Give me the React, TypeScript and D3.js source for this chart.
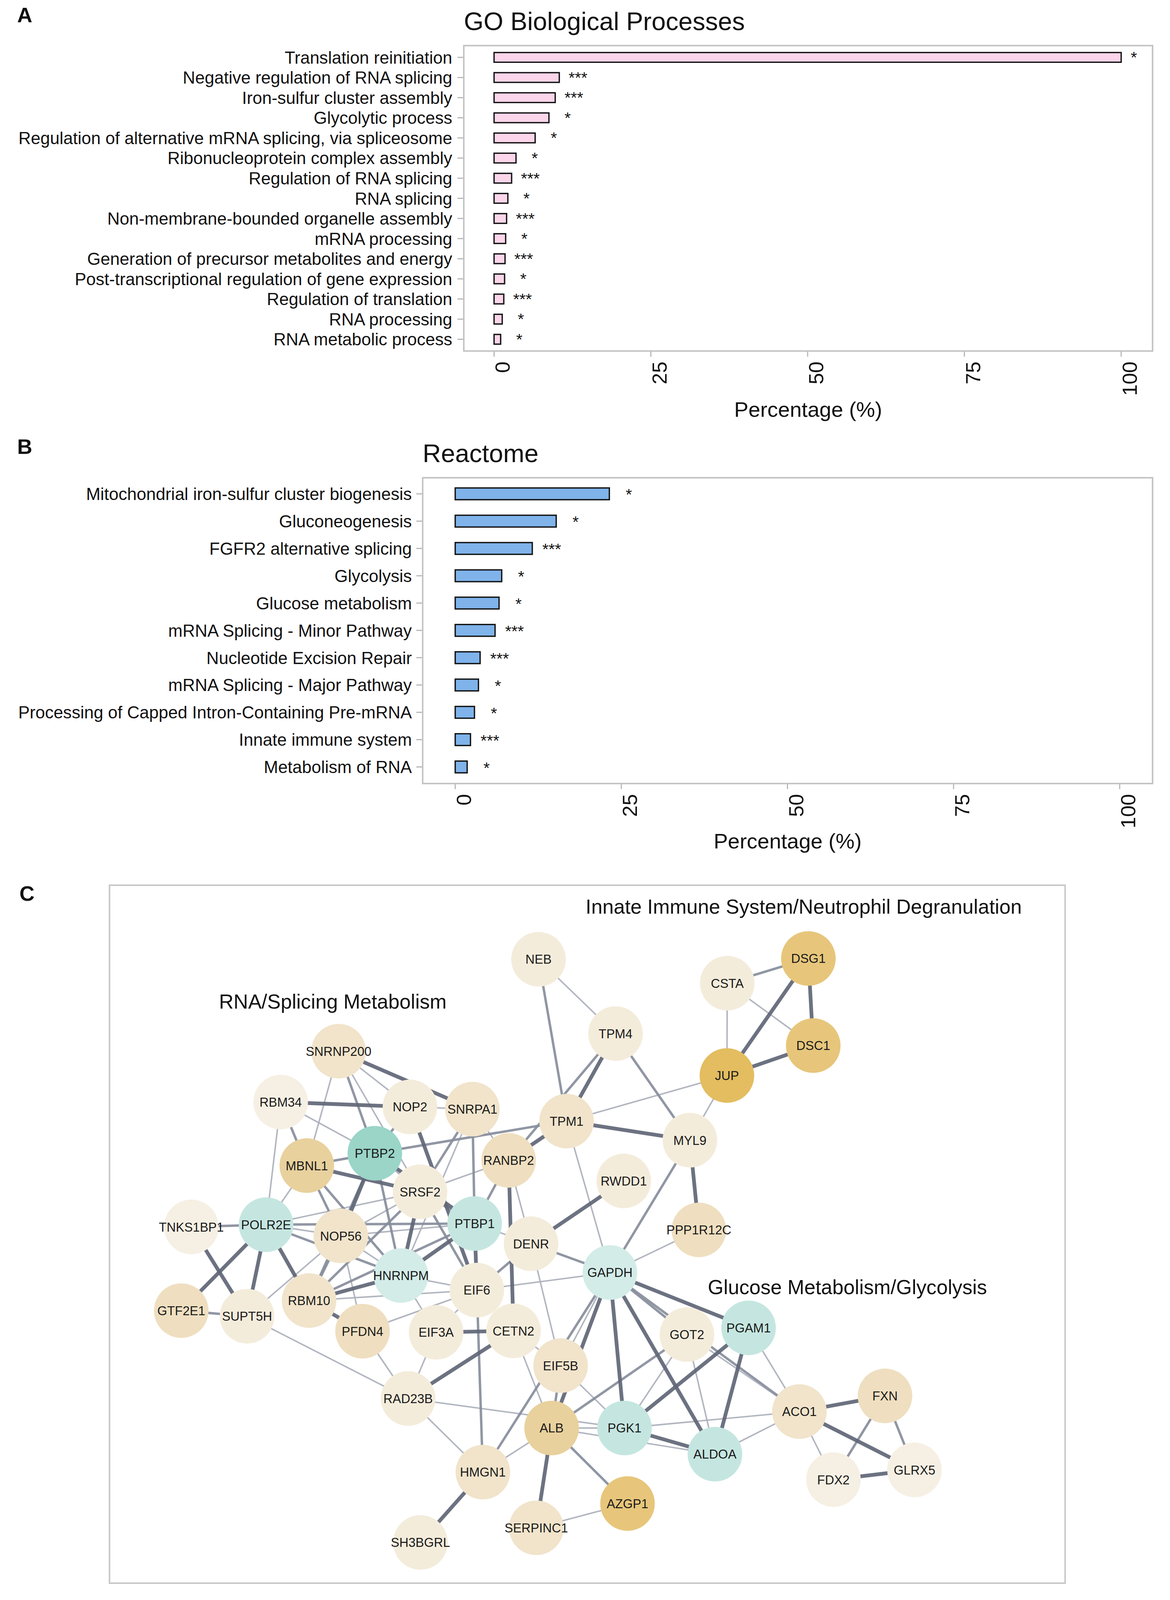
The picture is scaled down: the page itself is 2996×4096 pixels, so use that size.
import React from "react"
import { scaleLinear, scalePoint } from "d3"

const FONT = "'Liberation Sans', Arial, Helvetica, sans-serif"
const SCALE = 0.957

// ---- panel A data
const goTerms = [
  "Translation reinitiation",
  "Negative regulation of RNA splicing",
  "Iron-sulfur cluster assembly",
  "Glycolytic process",
  "Regulation of alternative mRNA splicing, via spliceosome",
  "Ribonucleoprotein complex assembly",
  "Regulation of RNA splicing",
  "RNA splicing",
  "Non-membrane-bounded organelle assembly",
  "mRNA processing",
  "Generation of precursor metabolites and energy",
  "Post-transcriptional regulation of gene expression",
  "Regulation of translation",
  "RNA processing",
  "RNA metabolic process",
]
const goPercent = [100, 10.4, 9.75, 8.75, 6.55, 3.5, 2.8, 2.2, 2.0, 1.85, 1.75, 1.68, 1.55, 1.3, 1.05]
const goSignif = ["*", "***", "***", "*", "*", "*", "***", "*", "***", "*", "***", "*", "***", "*", "*"]

// ---- panel B data
const reactomeTerms = [
  "Mitochondrial iron-sulfur cluster biogenesis",
  "Gluconeogenesis",
  "FGFR2 alternative splicing",
  "Glycolysis",
  "Glucose metabolism",
  "mRNA Splicing - Minor Pathway",
  "Nucleotide Excision Repair",
  "mRNA Splicing - Major Pathway",
  "Processing of Capped Intron-Containing Pre-mRNA",
  "Innate immune system",
  "Metabolism of RNA",
]
const reactomePercent = [23.2, 15.2, 11.6, 7.0, 6.6, 6.0, 3.75, 3.5, 2.9, 2.3, 1.8]
const reactomeSignif = ["*", "*", "***", "*", "*", "***", "***", "*", "*", "***", "*"]

const percentTicks = [0, 25, 50, 75, 100]

// ---- panel C data (layout units inside the network frame)
const geneNodes: [string, number, number, string][] = [
  ["NEB", 1148, 198, "cream"],
  ["CSTA", 1653, 262, "cream"],
  ["DSG1", 1870, 196, "gold"],
  ["DSC1", 1883, 429, "gold"],
  ["TPM4", 1354, 397, "cream"],
  ["JUP", 1652, 509, "amber"],
  ["SNRNP200", 613, 444, "beige"],
  ["RBM34", 458, 580, "pale"],
  ["NOP2", 804, 593, "cream"],
  ["SNRPA1", 971, 599, "beige"],
  ["TPM1", 1223, 631, "beige"],
  ["MYL9", 1553, 682, "cream"],
  ["MBNL1", 528, 750, "tan"],
  ["PTBP2", 710, 717, "teal"],
  ["RANBP2", 1068, 736, "sand"],
  ["SRSF2", 831, 820, "cream"],
  ["RWDD1", 1376, 791, "cream"],
  ["TNKS1BP1", 219, 914, "pale"],
  ["POLR2E", 419, 908, "aqua"],
  ["NOP56", 619, 938, "beige"],
  ["PTBP1", 977, 905, "aqua"],
  ["DENR", 1128, 959, "cream"],
  ["PPP1R12C", 1577, 922, "sand"],
  ["HNRNPM", 780, 1044, "mist"],
  ["EIF6", 983, 1083, "cream"],
  ["GAPDH", 1339, 1036, "mist"],
  ["GTF2E1", 192, 1138, "sand"],
  ["SUPT5H", 368, 1153, "cream"],
  ["RBM10", 534, 1111, "beige"],
  ["PFDN4", 677, 1193, "sand"],
  ["EIF3A", 874, 1196, "cream"],
  ["CETN2", 1081, 1192, "cream"],
  ["GOT2", 1545, 1202, "cream"],
  ["PGAM1", 1710, 1184, "aqua"],
  ["EIF5B", 1207, 1285, "beige"],
  ["RAD23B", 799, 1373, "cream"],
  ["ALB", 1183, 1452, "tan"],
  ["PGK1", 1378, 1452, "aqua"],
  ["ACO1", 1846, 1408, "beige"],
  ["FXN", 2075, 1366, "sand"],
  ["ALDOA", 1620, 1522, "aqua"],
  ["HMGN1", 999, 1570, "beige"],
  ["FDX2", 1937, 1590, "pale"],
  ["GLRX5", 2154, 1564, "pale"],
  ["AZGP1", 1386, 1654, "gold"],
  ["SERPINC1", 1142, 1719, "beige"],
  ["SH3BGRL", 832, 1758, "cream"],
]

const geneLinks: [string, string, number][] = [
  // thin
  ["NEB", "TPM4", 1], ["TPM1", "JUP", 1], ["TPM1", "GAPDH", 1], ["MYL9", "JUP", 1],
  ["CSTA", "JUP", 1], ["CSTA", "DSC1", 1], ["PPP1R12C", "GAPDH", 1], ["EIF6", "GAPDH", 1],
  ["SRSF2", "RANBP2", 1], ["SNRPA1", "RANBP2", 1], ["RANBP2", "DENR", 1], ["PGAM1", "ACO1", 1],
  ["GOT2", "PGK1", 1], ["GOT2", "ALDOA", 1], ["GOT2", "ACO1", 1], ["PGK1", "ALB", 1],
  ["PGK1", "ACO1", 1], ["PGK1", "EIF5B", 1], ["ALDOA", "ACO1", 1], ["ACO1", "FDX2", 1],
  ["ALB", "HMGN1", 1], ["SERPINC1", "AZGP1", 1], ["DENR", "EIF5B", 1], ["ALB", "ALDOA", 1],
  ["CETN2", "ALB", 1], ["RAD23B", "PGK1", 1], ["RAD23B", "SUPT5H", 1], ["RAD23B", "PFDN4", 1],
  ["RAD23B", "EIF3A", 1], ["RAD23B", "HMGN1", 1], ["PFDN4", "EIF6", 1], ["HNRNPM", "EIF3A", 1],
  ["EIF6", "EIF3A", 1], ["SUPT5H", "NOP56", 1], ["POLR2E", "SRSF2", 1], ["POLR2E", "NOP56", 1],
  ["POLR2E", "MBNL1", 1], ["RBM34", "PTBP2", 1], ["RBM34", "POLR2E", 1], ["SNRNP200", "NOP2", 1],
  ["SNRNP200", "MBNL1", 1], ["SNRNP200", "SRSF2", 1], ["NOP2", "SNRPA1", 1], ["SNRPA1", "HNRNPM", 1],
  ["PTBP2", "SRSF2", 1], ["NOP56", "PTBP1", 1], ["NOP56", "SRSF2", 1], ["NOP56", "HNRNPM", 1],
  ["NOP56", "PFDN4", 1], ["RBM10", "EIF6", 1], ["PTBP1", "DENR", 1], ["HNRNPM", "EIF6", 1],
  ["GAPDH", "EIF5B", 1], ["EIF5B", "CETN2", 1],
  // medium
  ["NEB", "TPM1", 2], ["TPM4", "RANBP2", 2], ["TPM4", "MYL9", 2], ["MYL9", "GAPDH", 2],
  ["CSTA", "DSG1", 2], ["DENR", "GAPDH", 2], ["PTBP2", "TPM1", 2], ["SNRPA1", "PTBP1", 2],
  ["PTBP1", "RANBP2", 2], ["GAPDH", "ACO1", 2], ["GAPDH", "HMGN1", 2], ["GOT2", "ALB", 2],
  ["FXN", "FDX2", 2], ["FXN", "GLRX5", 2], ["ALB", "AZGP1", 2], ["ALB", "EIF5B", 2],
  ["EIF6", "HMGN1", 2], ["GTF2E1", "SUPT5H", 2], ["TNKS1BP1", "POLR2E", 2], ["POLR2E", "PTBP1", 2],
  ["POLR2E", "HNRNPM", 2], ["MBNL1", "PTBP2", 2], ["MBNL1", "NOP56", 2], ["MBNL1", "HNRNPM", 2],
  ["PTBP2", "RBM10", 2], ["PTBP2", "HNRNPM", 2], ["RBM34", "MBNL1", 2], ["SNRNP200", "PTBP2", 2],
  ["SNRPA1", "SRSF2", 2], ["NOP2", "PTBP2", 2], ["NOP56", "RBM10", 2], ["RBM10", "PTBP1", 2],
  ["RBM10", "SRSF2", 2], ["SRSF2", "PTBP1", 2], ["EIF6", "DENR", 2], ["GAPDH", "GOT2", 2],
  ["SRSF2", "EIF6", 2],
  // thick
  ["TPM4", "TPM1", 3], ["TPM1", "MYL9", 3], ["MYL9", "PPP1R12C", 3], ["DSG1", "JUP", 3],
  ["DSG1", "DSC1", 3], ["JUP", "DSC1", 3], ["RWDD1", "DENR", 3], ["RANBP2", "CETN2", 3],
  ["GAPDH", "PGAM1", 3], ["GAPDH", "PGK1", 3], ["GAPDH", "ALDOA", 3], ["GAPDH", "ALB", 3],
  ["PGAM1", "PGK1", 3], ["PGAM1", "ALDOA", 3], ["PGK1", "ALDOA", 3], ["ACO1", "FXN", 3],
  ["ACO1", "GLRX5", 3], ["FDX2", "GLRX5", 3], ["ALB", "SERPINC1", 3], ["RAD23B", "CETN2", 3],
  ["HMGN1", "SH3BGRL", 3], ["EIF3A", "CETN2", 3], ["SNRNP200", "SNRPA1", 3], ["RBM34", "NOP2", 3],
  ["GTF2E1", "POLR2E", 3], ["TNKS1BP1", "SUPT5H", 3], ["POLR2E", "SUPT5H", 3], ["POLR2E", "RBM10", 3],
  ["MBNL1", "SRSF2", 3], ["PTBP2", "NOP56", 3], ["RBM10", "HNRNPM", 3], ["HNRNPM", "PTBP1", 3],
  ["RBM10", "PFDN4", 3], ["SRSF2", "HNRNPM", 3], ["PTBP1", "EIF6", 3], ["NOP2", "EIF6", 3],
  ["TPM1", "RANBP2", 3], ["PTBP2", "PTBP1", 3],
]

const clusterTitles: [string, number, number][] = [
  ["Innate Immune System/Neutrophil Degranulation", 1274, 76],
  ["RNA/Splicing Metabolism", 293, 330],
  ["Glucose Metabolism/Glycolysis", 1601, 1094],
]

const nodeFill: Record<string, string> = {
  pale: "#F6F0E4",
  cream: "#F4ECDB",
  beige: "#F1E4CB",
  sand: "#EFDFC0",
  tan: "#E8D19D",
  gold: "#E7C67B",
  amber: "#E3BD60",
  teal: "#9AD5C8",
  aqua: "#C5E6E0",
  mist: "#D3ECE8",
}

const linkStyle: Record<number, { color: string; width: number }> = {
  1: { color: "#abb0bb", width: 4 },
  2: { color: "#878d9b", width: 6.5 },
  3: { color: "#5f6676", width: 10 },
}

type Box = { x: number; y: number; w: number; h: number }

type BarPanelProps = {
  letter: string
  letterY: number
  title: string
  titleY: number
  terms: string[]
  values: number[]
  signif: string[]
  box: Box
  xRange: [number, number]
  yRange: [number, number]
  barH: number
  fill: string
  labelX: number
  axisTitleY: number
  starGap: number
  starDy: number
}

const BarPanel = (p: BarPanelProps) => {
  const x = scaleLinear().domain([0, 100]).range(p.xRange)
  const y = scalePoint<string>().domain(p.terms).range(p.yRange)
  const bottom = p.box.y + p.box.h
  const right = p.box.x + p.box.w

  return (
    <g>
      <text x={46} y={p.letterY} fontSize={56} fontWeight="bold" fill="#111">
        {p.letter}
      </text>
      <text x={p.box.x} y={p.titleY} fontSize={68} fill="#111">
        {p.title}
      </text>

      {/* y ticks + category labels */}
      {p.terms.map((t) => (
        <g key={t}>
          <line
            x1={p.box.x - 17}
            x2={p.box.x}
            y1={y(t)}
            y2={y(t)}
            stroke="#b5b5b5"
            strokeWidth={3}
          />
          <text
            x={p.labelX}
            y={y(t)}
            dy="0.36em"
            textAnchor="end"
            fontSize={46}
            fill="#111"
          >
            {t}
          </text>
        </g>
      ))}

      {/* x ticks */}
      {percentTicks.map((v) => (
        <g key={v}>
          <line
            x1={x(v)}
            x2={x(v)}
            y1={bottom}
            y2={bottom + 15}
            stroke="#b5b5b5"
            strokeWidth={3}
          />
          <text
            transform={`translate(${x(v) + 42},${bottom + 28}) rotate(-90)`}
            textAnchor="end"
            fontSize={55}
            fill="#111"
          >
            {v}
          </text>
        </g>
      ))}

      <rect
        x={p.box.x}
        y={p.box.y}
        width={p.box.w}
        height={p.box.h}
        fill="none"
        stroke="#c2c2c2"
        strokeWidth={4}
      />

      {/* bars */}
      {p.terms.map((t, i) => (
        <rect
          key={t}
          x={x(0)}
          y={(y(t) ?? 0) - p.barH / 2}
          width={x(p.values[i]) - x(0)}
          height={p.barH}
          fill={p.fill}
          stroke="#111"
          strokeWidth={3.5}
        />
      ))}

      {/* significance stars */}
      {p.terms.map((t, i) => (
        <text
          key={t}
          x={Math.min(x(p.values[i]) + p.starGap, right - 50)}
          y={(y(t) ?? 0) + p.starDy}
          textAnchor="middle"
          fontSize={43}
          fill="#111"
        >
          {p.signif[i]}
        </text>
      ))}

      <text
        x={p.box.x + p.box.w / 2}
        y={p.axisTitleY}
        textAnchor="middle"
        fontSize={57}
        fill="#111"
      >
        Percentage (%)
      </text>
    </g>
  )
}

const Network = () => {
  const frame: Box = { x: 293, y: 2368, w: 2557, h: 1867 }
  const sx = scaleLinear().domain([0, frame.w]).range([frame.x, frame.x + frame.w])
  const sy = scaleLinear().domain([0, frame.h]).range([frame.y, frame.y + frame.h])
  const pos = new Map(geneNodes.map(([n, gx, gy]) => [n, [sx(gx), sy(gy)]]))
  const r = 73

  return (
    <g>
      <text x={52} y={2410} fontSize={56} fontWeight="bold" fill="#111">
        C
      </text>
      <rect
        x={frame.x}
        y={frame.y}
        width={frame.w}
        height={frame.h}
        fill="none"
        stroke="#c6c6c6"
        strokeWidth={4}
      />
      {geneLinks.map(([a, b, w], i) => {
        const pa = pos.get(a)!
        const pb = pos.get(b)!
        const st = linkStyle[w]
        return (
          <line
            key={i}
            x1={pa[0]}
            y1={pa[1]}
            x2={pb[0]}
            y2={pb[1]}
            stroke={st.color}
            strokeWidth={st.width}
            strokeOpacity={0.92}
          />
        )
      })}
      {geneNodes.map(([n, gx, gy, shade]) => (
        <g key={n}>
          <circle cx={sx(gx)} cy={sy(gy)} r={r} fill={nodeFill[shade]} />
          <text
            x={sx(gx)}
            y={sy(gy)}
            dy="0.36em"
            textAnchor="middle"
            fontSize={34}
            fill="#1a1a1a"
          >
            {n}
          </text>
        </g>
      ))}
      {clusterTitles.map(([t, tx, ty]) => (
        <text key={t} x={sx(tx)} y={sy(ty)} fontSize={54} fill="#111">
          {t}
        </text>
      ))}
    </g>
  )
}

const App = () => {
  const W = 2996
  const H = 4096
  return (
    <svg
      width={W}
      height={H}
      style={{ position: "absolute", left: 0, top: 0, display: "block" }}
      fontFamily={FONT}
    >
      <rect width={W} height={H} fill="#ffffff" />
      <g transform={`scale(${SCALE})`}>
        <BarPanel
          letter="A"
          letterY={60}
          title="GO Biological Processes"
          titleY={80}
          terms={goTerms}
          values={goPercent}
          signif={goSignif}
          box={{ x: 1241, y: 122, w: 1843, h: 817 }}
          xRange={[1322, 3000]}
          yRange={[153.5, 907.6]}
          barH={26}
          fill="#FBD5EA"
          labelX={1210}
          axisTitleY={1115}
          starGap={50}
          starDy={15}
        />
        <BarPanel
          letter="B"
          letterY={1214}
          title="Reactome"
          titleY={1236}
          terms={reactomeTerms}
          values={reactomePercent}
          signif={reactomeSignif}
          box={{ x: 1131, y: 1278, w: 1953, h: 818 }}
          xRange={[1218, 2996]}
          yRange={[1321, 2051.6]}
          barH={31.5}
          fill="#7FB3EA"
          labelX={1102}
          axisTitleY={2270}
          starGap={52}
          starDy={17}
        />
        <Network />
      </g>
    </svg>
  )
}

export default App
